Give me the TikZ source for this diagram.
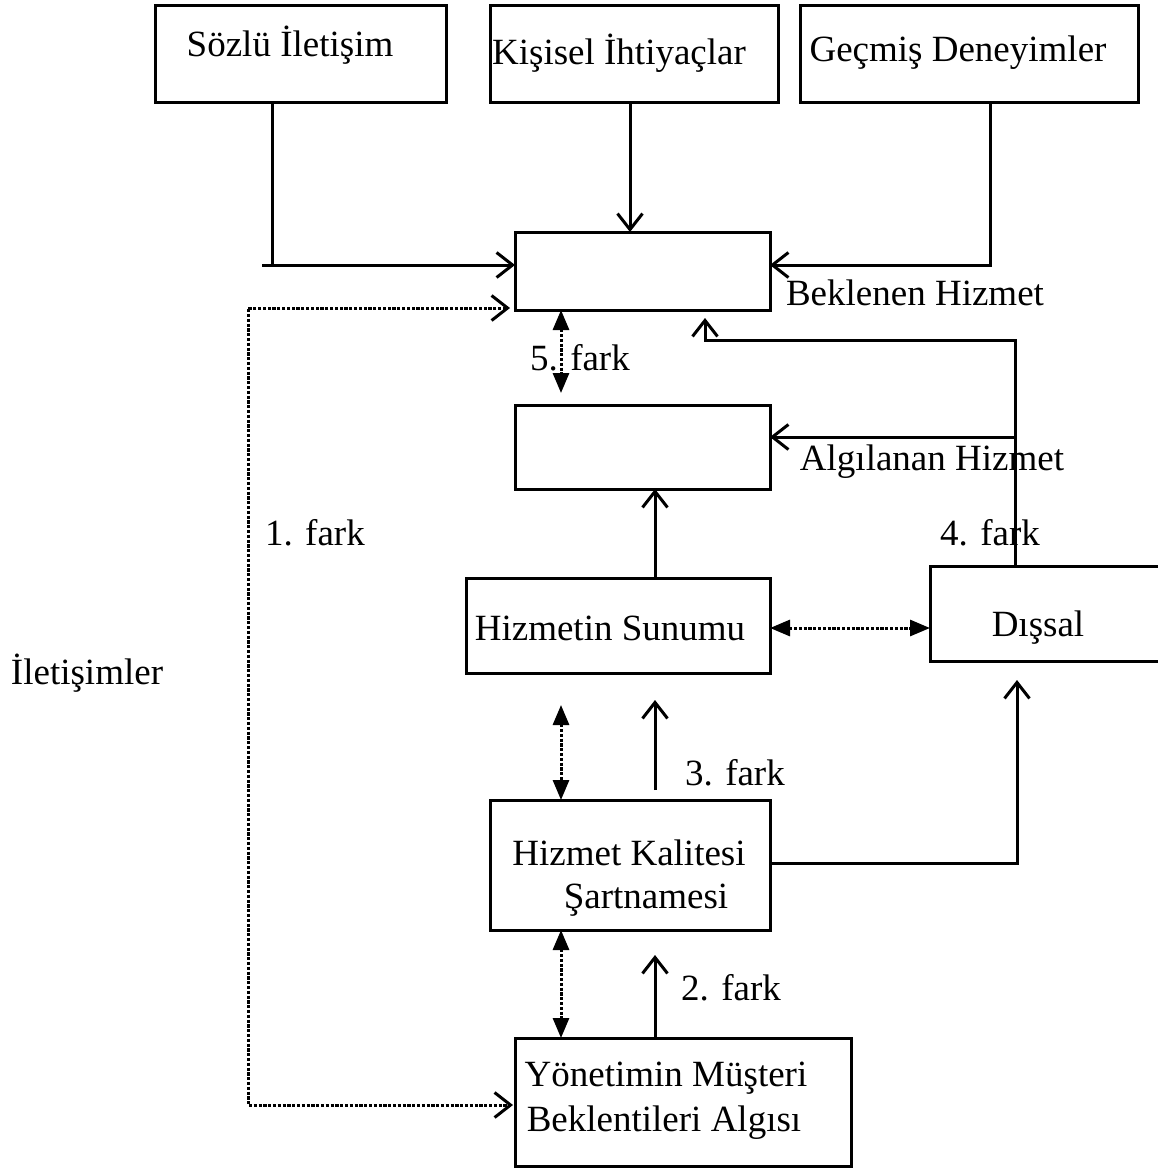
\documentclass[tikz,border=0pt]{standalone}
\usepackage{fontspec}
\setmainfont{Liberation Serif}
\usetikzlibrary{arrows.meta}
\begin{document}
\begin{tikzpicture}[x=0.5pt,y=-0.5pt,
  box/.style={draw,line width=1.5pt,inner sep=0pt,outer sep=0pt},
  lbl/.style={inner sep=0pt,font=\fontsize{18.5pt}{22pt}\selectfont},
  arr/.style={line width=1.5pt,-{Straight Barb[length=8pt,width=12.5pt,line width=1.5pt]}},
  dd/.style={line width=1.5pt,dash pattern=on 1.6pt off 0.8pt,
    {Triangle[length=10pt,width=8pt]}-{Triangle[length=10pt,width=8pt]}},
  dl/.style={line width=1.5pt,dash pattern=on 1.6pt off 0.8pt,
    {Straight Barb[length=8pt,width=12.5pt,line width=1.5pt]}-{Straight Barb[length=8pt,width=12.5pt,line width=1.5pt]}}]
\useasboundingbox (0,0) rectangle (1158,1169);

% boxes
\node[box,minimum width=145.5pt,minimum height=48.5pt] (soz) at (300.5,53.5) {};
\node[box,minimum width=144pt,minimum height=48.5pt] (kis) at (634,53.5) {};
\node[box,minimum width=169pt,minimum height=48.5pt] (gec) at (969,53.5) {};
\node[box,minimum width=127.5pt,minimum height=39pt] (bek) at (642.5,271) {};
\node[box,minimum width=127.5pt,minimum height=42pt] (alg) at (642.5,447) {};
\node[box,minimum width=152pt,minimum height=47.5pt] (sun) at (618,625.5) {};
\node[box,minimum width=116pt,minimum height=47.5pt] (dis) at (1046,613.5) {};
\node[box,minimum width=140pt,minimum height=65pt] (kal) at (630,865) {};
\node[box,minimum width=168pt,minimum height=64pt] (yon) at (683,1102) {};

% texts
\node[lbl] (t1) at (290,45) {Sözlü İletişim};
\node[lbl] (t2) at (619,53) {Kişisel İhtiyaçlar};
\node[lbl] (t3) at (958,53) {Geçmiş Deneyimler};
\node[lbl] (t4) at (915,293) {Beklenen Hizmet};
\node[lbl] (t5) at (580,358) {5. fark};
\node[lbl] (t6) at (932,462) {Algılanan Hizmet};
\node[lbl] (t7) at (315,533) {1. fark};
\node[lbl] (t8) at (990,533) {4. fark};
\node[lbl] (t9) at (610,628) {Hizmetin Sunumu};
\node[lbl] (t10) at (1038,628) {Dışsal};
\node[lbl] (t11) at (87,673) {İletişimler};
\node[lbl] (t12) at (735,773) {3. fark};
\node[lbl] (t13) at (629,853) {Hizmet Kalitesi};
\node[lbl] (t14) at (646,900) {Şartnamesi};
\node[lbl] (t15) at (731,988) {2. fark};
\node[lbl] (t16) at (666,1078) {Yönetimin Müşteri};
\node[lbl] (t17) at (664,1123) {Beklentileri Algısı};

% inputs to the expected service
\coordinate (sc) at (272,265);
\coordinate (st) at (262,265);
\draw[line width=1.5pt] ([xshift=-14.25pt]soz.south) -- (sc);
\draw[arr] (st) -- ([yshift=3pt]bek.west);
\draw[arr] ([xshift=-2pt]kis.south) coordinate (kd) -- (bek.north -| kd);
\draw[arr] ([xshift=10.5pt]gec.south) |- ([yshift=3pt]bek.east);

% communications (dotted)
\coordinate (lft) at (248,700);
\draw[dl] ([xshift=-2.5pt,yshift=-18.5pt]bek.west) -| (lft) |- ([xshift=-1pt,yshift=-1.5pt]yon.west);

% gap 5
\draw[dd] ([xshift=-40.75pt]bek.south) -- ([xshift=-40.75pt,yshift=6pt]alg.north);

% external communications feedback
\coordinate (b5) at (705,340);
\coordinate (br) at (1015,437);
\draw[arr] ([xshift=-15.5pt]dis.north) |- (b5) -- ([xshift=31.25pt,yshift=-4pt]bek.south);
\draw[arr] (br) -- ([yshift=5pt]alg.east);

% service delivery
\draw[arr] ([xshift=18.5pt]sun.north) -- ([xshift=6.25pt]alg.south);
\draw[dd] ([yshift=-1.25pt]sun.east) coordinate (se) -- (dis.west |- se);
\draw[dd] ([xshift=-28.5pt,yshift=-16pt]sun.south) -- ([xshift=-34.5pt]kal.north);
\draw[arr] ([xshift=12.5pt,yshift=5pt]kal.north) -- ([xshift=18.5pt,yshift=-13.5pt]sun.south);
\draw[arr] ([yshift=1pt]kal.east) -| ([xshift=-14.5pt,yshift=-9.5pt]dis.south);

% management perception
\draw[dd] ([xshift=-34.5pt]kal.south) -- ([xshift=-61pt]yon.north);
\draw[arr] ([xshift=-14pt]yon.north) -- ([xshift=12.5pt,yshift=-12.5pt]kal.south);
\end{tikzpicture}
\end{document}
